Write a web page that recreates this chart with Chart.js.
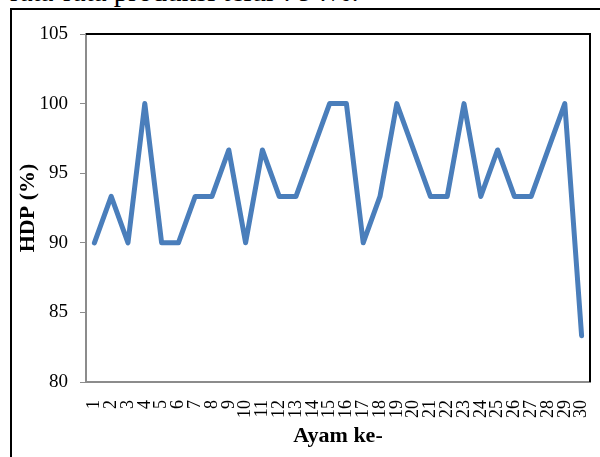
<!DOCTYPE html>
<html>
<head>
<meta charset="utf-8">
<script src="https://cdn.jsdelivr.net/npm/chart.js@4"></script>
<style>
  html, body { margin:0; padding:0; background:#fff; }
  #wrap { position:relative; width:600px; height:457px; overflow:hidden; }
  #frame { position:absolute; left:10px; top:8px; width:600px; height:460px; border-left:2px solid #000; border-top:2px solid #000; }
  #caption { position:absolute; left:10px; top:-23px; line-height:1; font-family:"Liberation Serif", serif; font-size:29px; color:#000; white-space:nowrap; }
  canvas { position:absolute; left:0; top:0; }
</style>
</head>
<body>
<div id="wrap">
  <div id="caption">rata-rata produksi telur : 94%.</div>
  <div id="frame"></div>
  <canvas id="c" width="600" height="457"></canvas>
</div>
<script>
const categories = ["1","2","3","4","5","6","7","8","9","10","11","12","13","14","15","16","17","18","19","20","21","22","23","24","25","26","27","28","29","30"];
const hdpValues = [90, 93.33, 90, 100, 90, 90, 93.33, 93.33, 96.67, 90, 96.67, 93.33, 93.33, 96.67, 100, 100, 90, 93.33, 100, 96.67, 93.33, 93.33, 100, 93.33, 96.67, 93.33, 93.33, 96.67, 100, 83.33];
const yTicks = [80, 85, 90, 95, 100, 105];
const xTitle = "Ayam ke-";
const yTitle = "HDP (%)";

const serif = "'Liberation Serif', 'Times New Roman', serif";

const frameLines = {
  id: 'frameLines',
  afterDraw(chart) {
    const a = chart.chartArea, ctx = chart.ctx;
    ctx.save();
    ctx.strokeStyle = '#000';
    ctx.lineWidth = 2;
    ctx.beginPath();
    ctx.moveTo(a.left, a.top);
    ctx.lineTo(a.right, a.top);
    ctx.lineTo(a.right, a.bottom);
    ctx.stroke();
    ctx.restore();
  }
};

new Chart(document.getElementById('c'), {
  type: 'line',
  data: {
    labels: categories,
    datasets: [{
      data: hdpValues,
      borderColor: '#4a7ebb',
      borderWidth: 5,
      pointRadius: 0,
      tension: 0,
      fill: false,
      borderJoinStyle: 'round',
      borderCapStyle: 'round'
    }]
  },
  options: {
    responsive: false,
    animation: false,
    layout: { padding: { top: 34, right: 10, left: 0, bottom: 0 } },
    plugins: { legend: { display: false }, tooltip: { enabled: false } },
    scales: {
      x: {
        type: 'category',
        offset: true,
        grid: { display: false },
        border: { display: true, color: '#8c8c8c', width: 2 },
        ticks: {
          autoSkip: false, maxRotation: 90, minRotation: 90,
          padding: 10,
          color: '#000',
          font: { family: serif, size: 18 }
        },
        title: {
          display: true, text: xTitle, color: '#000',
          font: { family: serif, size: 22, weight: 'bold' },
          padding: { top: 0, bottom: 7 }
        },
        afterFit(scale) { scale.height = 75; scale.paddingLeft = 0; scale.paddingRight = 0; }
      },
      y: {
        min: 80, max: 105,
        afterBuildTicks(scale) { scale.ticks = yTicks.map(v => ({ value: v })); },
        grid: { display: true, drawOnChartArea: false, drawTicks: true, tickLength: 6, color: '#8c8c8c', lineWidth: 1 },
        border: { display: true, color: '#8c8c8c', width: 2 },
        ticks: {
          padding: 12,
          color: '#000',
          font: { family: serif, size: 19 }
        },
        title: {
          display: true, text: yTitle, color: '#000',
          font: { family: serif, size: 22, weight: 'bold' },
          padding: { top: 15, bottom: 0 }
        },
        afterFit(scale) { scale.width = 86; scale.paddingTop = 0; scale.paddingBottom = 0; }
      }
    }
  },
  plugins: [frameLines]
});
</script>
</body>
</html>
